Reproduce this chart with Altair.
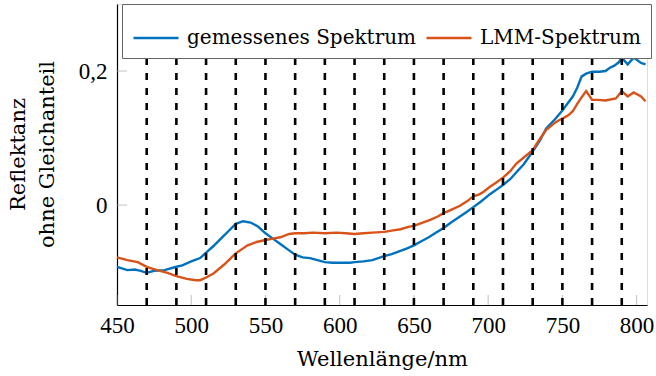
import altair as alt
import pandas as pd

# --- data ---
wl_meas = [450, 457, 462, 466, 470, 475, 482, 490, 494, 500, 506, 510, 515, 520, 525, 530,
           535, 540, 545, 550, 555, 560, 565, 570, 575, 580, 585, 590, 595, 600, 607, 610,
           616, 622, 630, 635, 640, 645, 650, 655, 660, 665, 670, 675, 681, 685, 690, 695,
           701, 705, 710, 715, 719, 724, 730, 735, 739, 745, 750, 753, 757, 760, 763, 766,
           770, 775, 779, 782, 785, 788, 790, 794, 798, 803, 806]
val_meas = [-0.092, -0.097, -0.096, -0.098, -0.101, -0.098, -0.097, -0.092, -0.090, -0.084,
            -0.079, -0.071, -0.061, -0.050, -0.039, -0.028, -0.024, -0.026, -0.032, -0.042,
            -0.050, -0.058, -0.066, -0.074, -0.078, -0.079, -0.082, -0.085, -0.086, -0.086,
            -0.086, -0.085, -0.084, -0.082, -0.076, -0.073, -0.069, -0.065, -0.060, -0.054,
            -0.048, -0.041, -0.034, -0.026, -0.017, -0.011, -0.003, 0.005, 0.016, 0.022,
            0.030, 0.039, 0.049, 0.061, 0.080, 0.097, 0.114, 0.128, 0.141, 0.150, 0.162,
            0.175, 0.192, 0.196, 0.199, 0.199, 0.200, 0.205, 0.208, 0.213, 0.220, 0.210,
            0.220, 0.212, 0.210]

wl_lmm = [450, 457, 464, 470, 477, 484, 490, 497, 503, 506, 510, 515, 522, 530, 538, 544,
          550, 555, 560, 566, 570, 576, 582, 590, 598, 604, 610, 616, 622, 630, 635, 641,
          647, 650, 655, 661, 666, 670, 675, 681, 686, 690, 694, 697, 701, 705, 710, 715,
          719, 724, 730, 734, 739, 745, 748, 750, 754, 757, 760, 763, 766, 770, 774, 779,
          786, 790, 794, 798, 803, 806]
val_lmm = [-0.078, -0.082, -0.085, -0.092, -0.097, -0.101, -0.106, -0.110, -0.112, -0.112,
           -0.108, -0.102, -0.089, -0.072, -0.060, -0.055, -0.052, -0.050, -0.048, -0.043,
           -0.042, -0.042, -0.041, -0.042, -0.041, -0.042, -0.043, -0.042, -0.041, -0.040,
           -0.038, -0.036, -0.032, -0.031, -0.027, -0.022, -0.017, -0.012, -0.007, -0.001,
           0.006, 0.013, 0.016, 0.020, 0.027, 0.033, 0.041, 0.051, 0.062, 0.071, 0.082,
           0.096, 0.112, 0.123, 0.127, 0.129, 0.134, 0.140, 0.151, 0.161, 0.170, 0.157,
           0.157, 0.156, 0.159, 0.170, 0.162, 0.168, 0.162, 0.155]

series_names = ["gemessenes Spektrum", "LMM-Spektrum"]
series_colors = ["#0072BD", "#D95319"]

dashed_wl = [470, 490, 510, 530, 550, 570, 590, 610, 630, 650, 670, 690, 710, 730, 750, 770, 790]
x_ticks = [450, 500, 550, 600, 650, 700, 750, 800]
y_ticks = [0, 0.2]

X_MIN, X_MAX = 450, 807
Y_MIN, Y_MAX = -0.149, 0.3

SERIF = "DejaVu Serif"

df = pd.concat([
    pd.DataFrame({"wl": wl_meas, "v": val_meas, "s": series_names[0]}),
    pd.DataFrame({"wl": wl_lmm, "v": val_lmm, "s": series_names[1]}),
])

xs = alt.Scale(domain=[X_MIN, X_MAX], nice=False, zero=False)
ys = alt.Scale(domain=[Y_MIN, Y_MAX], nice=False, zero=False)

xaxis = alt.Axis(values=x_ticks, ticks=False, grid=False, domainColor="black", domainWidth=1.2,
                 labelFont="Liberation Serif", labelFontSize=23, labelColor="black",
                 labelPadding=9, labelFlush=False,
                 title="Wellenlänge/nm", titleFont=SERIF, titleFontSize=21,
                 titleFontWeight="normal", titleColor="black", titleBaseline="alphabetic",
                 titleY=60, titleX=265)
yaxis = alt.Axis(values=y_ticks, ticks=False, grid=False, domainColor="black", domainWidth=1.2,
                 labelFont="Liberation Serif", labelFontSize=23, labelColor="black",
                 labelPadding=10,
                 labelExpr="datum.value == 0 ? '0' : replace(format(datum.value, '.1f'), '.', ',')",
                 title=["Reflektanz", "ohne Gleichanteil"], titleFont=SERIF,
                 titleFontSize=21, titleFontWeight="normal", titleColor="black",
                 titleAngle=270, titleAlign="center", titleBaseline="alphabetic",
                 titleLineHeight=29, titleX=-93, titleY=150)

lines = alt.Chart(df).mark_line(strokeWidth=2.4).encode(
    x=alt.X("wl:Q", scale=xs, axis=xaxis),
    y=alt.Y("v:Q", scale=ys, axis=yaxis),
    color=alt.Color("s:N", sort=series_names,
                    scale=alt.Scale(domain=series_names, range=series_colors),
                    legend=alt.Legend(orient="none", legendX=5, legendY=0,
                                      direction="horizontal", title=None,
                                      fillColor="white", strokeColor="#666",
                                      padding=10, symbolType="stroke", symbolSize=2025,
                                      symbolStrokeWidth=2.5, labelFont=SERIF,
                                      labelFontSize=20, labelColor="black", labelOffset=7,
                                      columnPadding=4, labelLimit=400)),
)

rules = alt.Chart(pd.DataFrame({"wl": dashed_wl})).mark_rule(
    color="black", strokeWidth=2.6, strokeDash=[7, 8]
).encode(
    x=alt.X("wl:Q", scale=xs),
    y=alt.datum(Y_MIN),
    y2=alt.datum(Y_MAX),
)

xt = alt.Chart(pd.DataFrame({"t": x_ticks})).mark_tick(
    orient="vertical", size=10, thickness=1, color="#a8a8a8", yOffset=-5
).encode(x=alt.X("t:Q", scale=xs), y=alt.datum(Y_MIN))

yt = alt.Chart(pd.DataFrame({"t": y_ticks})).mark_tick(
    orient="horizontal", size=10, thickness=1, color="#a8a8a8", xOffset=5
).encode(y=alt.Y("t:Q", scale=ys), x=alt.datum(X_MIN))

chart = alt.layer(xt, yt, lines, rules).properties(
    width=530, height=301,
    autosize=alt.AutoSizeParams(type="none"),
    padding={"left": 117, "top": 4, "right": 9, "bottom": 71},
).configure_view(stroke=None).configure(background="white")

chart.save("out.html", embed_options={"renderer": "svg", "actions": False})
